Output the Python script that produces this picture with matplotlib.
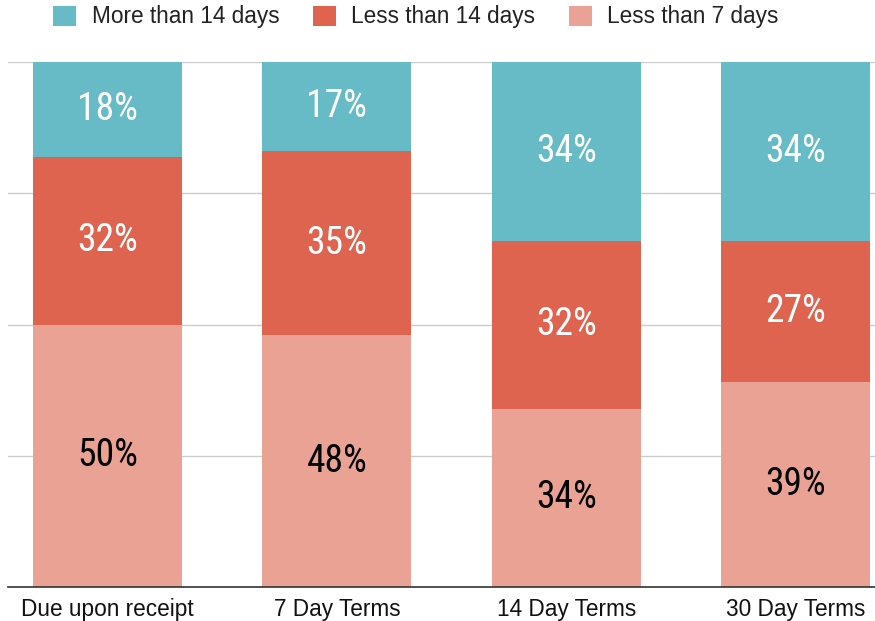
import matplotlib
matplotlib.use("Agg")
import matplotlib.pyplot as plt
from matplotlib.patches import Patch
from matplotlib import font_manager
from matplotlib.font_manager import FontProperties

categories = ["Due upon receipt", "7 Day Terms", "14 Day Terms", "30 Day Terms"]
less_than_7 = [50, 48, 34, 39]
less_than_14 = [32, 35, 32, 27]
more_than_14 = [18, 17, 34, 34]
series_names = ["More than 14 days", "Less than 14 days", "Less than 7 days"]

c_teal = "#66BBC6"
c_red = "#DE6450"
c_pink = "#EAA294"

lab_fs = 27


def weight_num(w):
    if isinstance(w, (int, float)):
        return w
    return font_manager.weight_dict.get(str(w), 400)


lab_prop = None
for cand in ["Roboto Condensed", "Archivo Narrow", "PT Sans Narrow"]:
    entries = [f for f in font_manager.fontManager.ttflist
               if f.name == cand and f.style == "normal"]
    if entries:
        best = min(entries, key=lambda f: (abs(weight_num(f.weight) - 400),
                                           "Variable" in f.fname or "[" in f.fname))
        lab_prop = FontProperties(fname=best.fname, size=lab_fs)
        break
if lab_prop is None:
    lab_prop = FontProperties(family="Liberation Sans", size=lab_fs)

plt.rcParams["font.family"] = ["Liberation Sans", "DejaVu Sans"]

fig = plt.figure(figsize=(8.75, 6.21), dpi=100)
W, H = 875, 621
ax = fig.add_axes([8 / W, (H - 587) / H, (875 - 8) / W, (587 - 62) / H])

x = list(range(len(categories)))
width = 0.65
ax.bar(x, less_than_7, width, color=c_pink, zorder=2)
ax.bar(x, less_than_14, width, bottom=less_than_7, color=c_red, zorder=2)
bottoms3 = [a + b for a, b in zip(less_than_7, less_than_14)]
ax.bar(x, more_than_14, width, bottom=bottoms3, color=c_teal, zorder=2)

lab_kw = dict(ha="center", va="center", zorder=3, fontproperties=lab_prop)
for i in x:
    ax.text(i, less_than_7[i] / 2, f"{less_than_7[i]}%", color="black", **lab_kw)
    ax.text(i, less_than_7[i] + less_than_14[i] / 2, f"{less_than_14[i]}%",
            color="white", **lab_kw)
    ax.text(i, bottoms3[i] + more_than_14[i] / 2, f"{more_than_14[i]}%",
            color="white", **lab_kw)

ax.set_xlim(-0.434, 3.346)
ax.set_ylim(0, 100)
ax.set_yticks([0, 25, 50, 75, 100])
ax.yaxis.grid(True, color="#cccccc", linewidth=1, zorder=0)
ax.tick_params(axis="y", left=False, labelleft=False)
ax.tick_params(axis="x", length=0, pad=8, labelsize=16.3, labelcolor="#111111")
ax.set_xticks(x)
ax.set_xticklabels(categories)
for s in ["top", "right", "left"]:
    ax.spines[s].set_visible(False)
ax.spines["bottom"].set_color("#333333")
ax.spines["bottom"].set_linewidth(1.2)
ax.spines["bottom"].set_zorder(4)

handles = [Patch(facecolor=c, edgecolor="none") for c in (c_teal, c_red, c_pink)]
fig.legend(handles, series_names, loc="center", bbox_to_anchor=(416 / W, 1 - 17 / H),
           ncol=3, frameon=False, fontsize=16.3, handlelength=1.0, handleheight=1.0,
           handletextpad=0.68, columnspacing=1.5, labelcolor="#222222")

fig.savefig("out.png", dpi=100)
